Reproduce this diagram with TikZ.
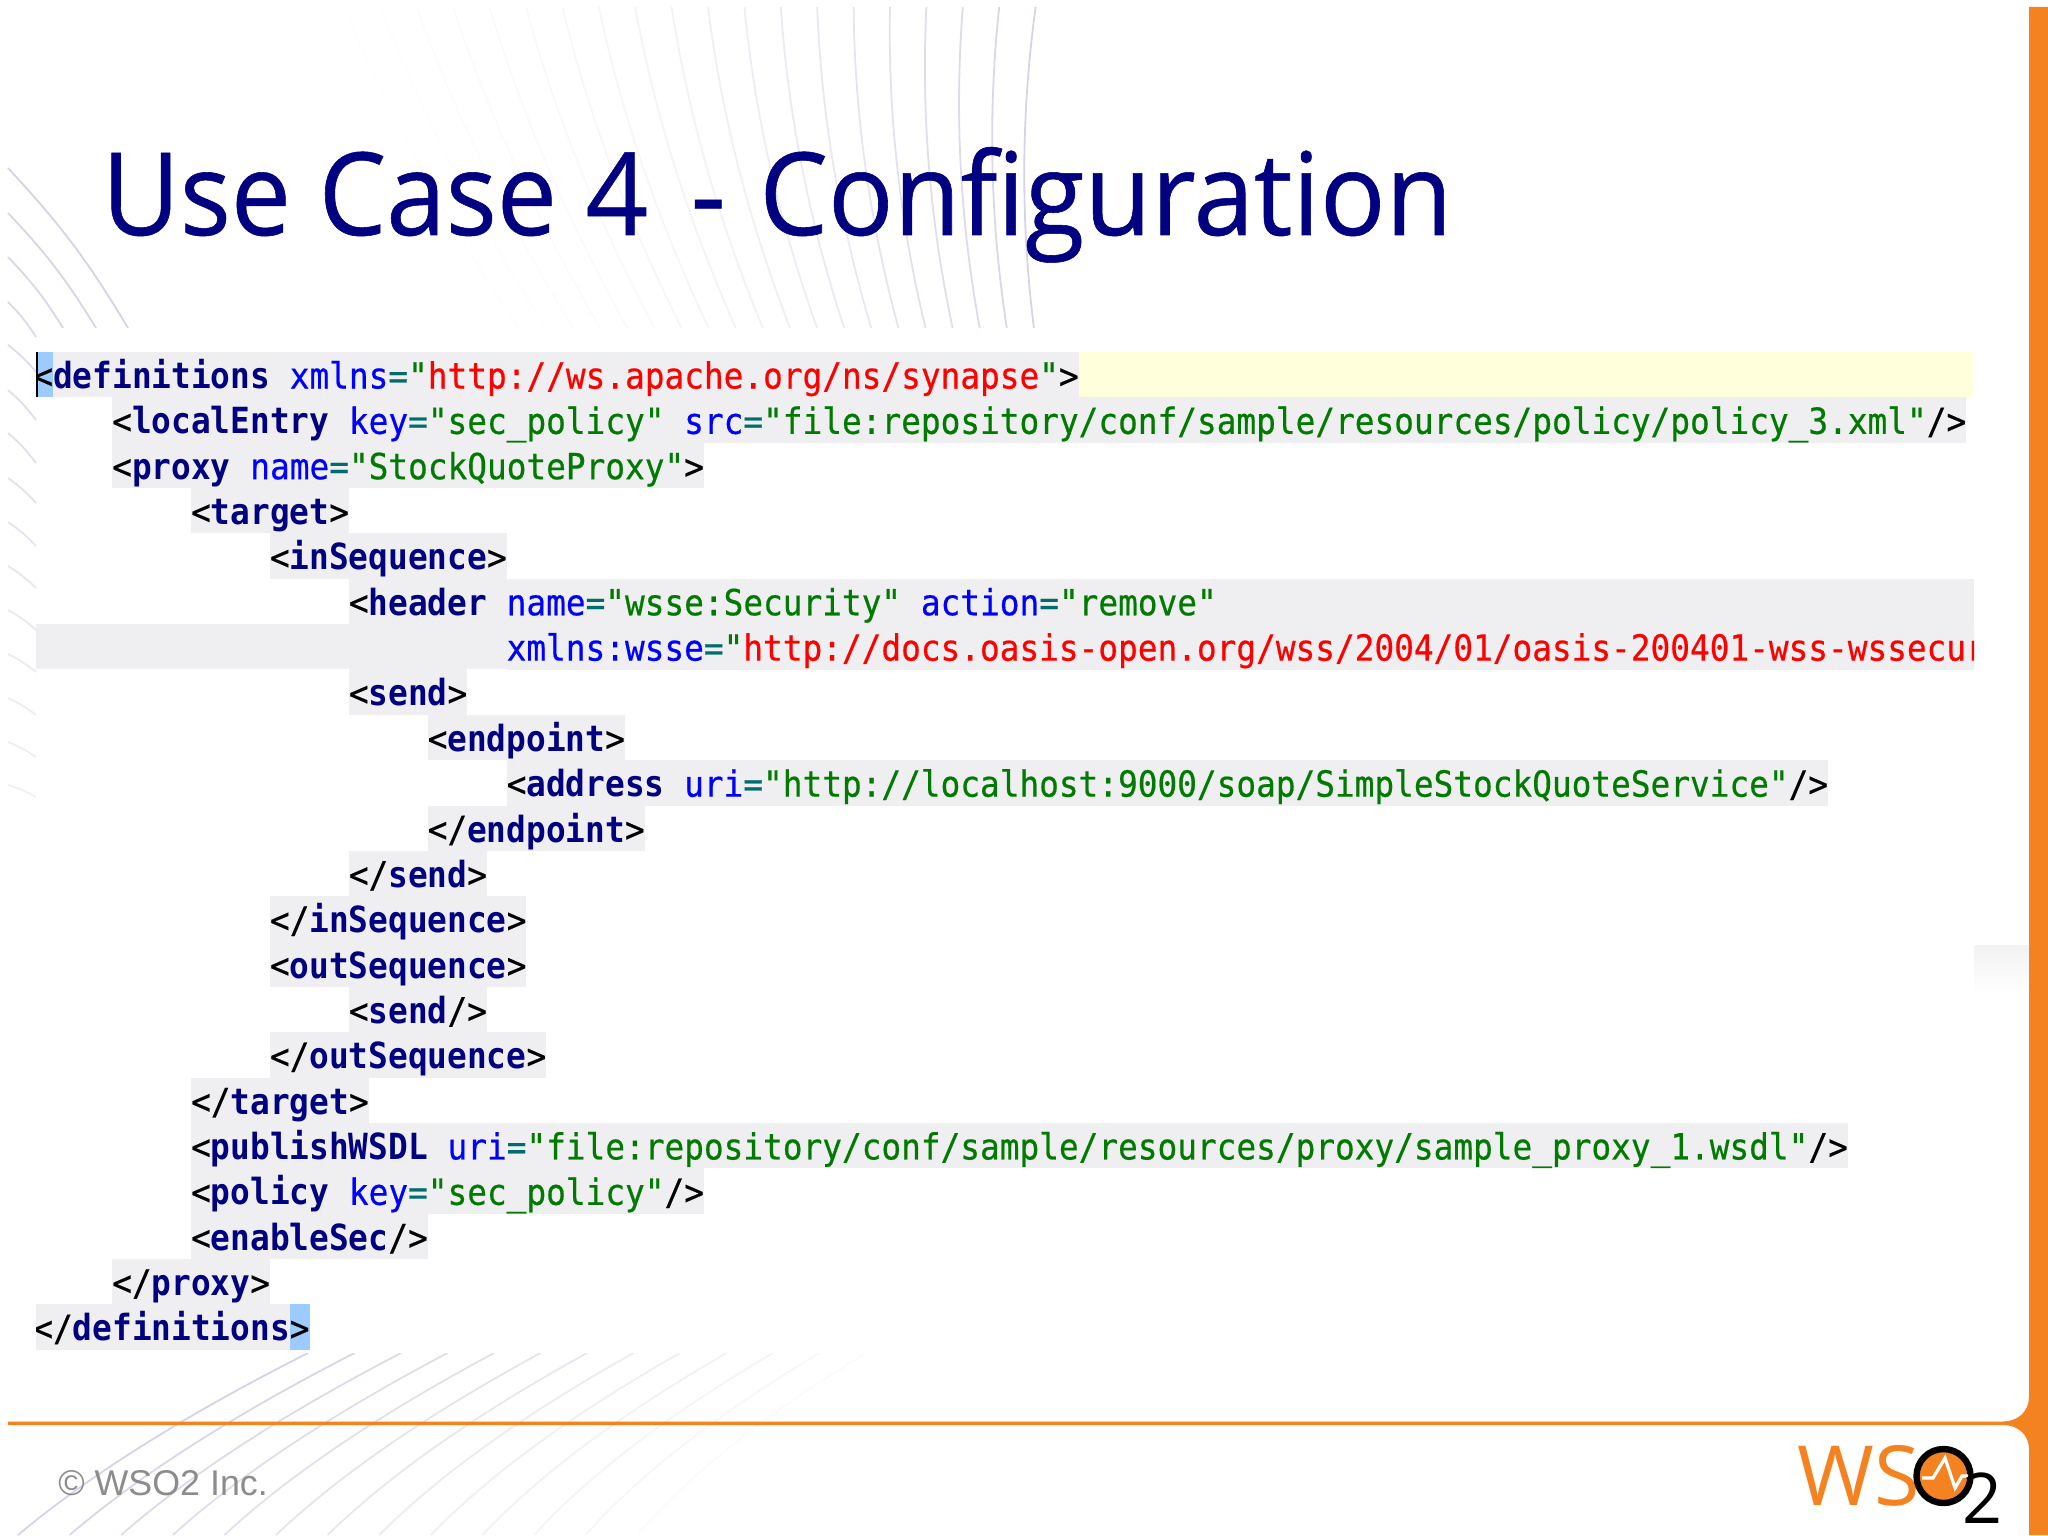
\documentclass[tikz,border=0pt]{standalone}
\usepackage{fontspec}
\setmainfont{Liberation Sans}
\newfontfamily\titlefont[FakeStretch=0.953,FakeBold=0.5]{Open Sans}
\newfontfamily\logofont{Open Sans}
\newfontfamily\codefont[FakeStretch=0.91,UprightFeatures={FakeBold=0.5}]{DejaVu Sans Mono}
\definecolor{titlenavy}{HTML}{000080}
\definecolor{wsoorange}{HTML}{F58220}
\definecolor{arcblue}{HTML}{D4D4E6}
\definecolor{bandgrey}{HTML}{EFEFF1}
\definecolor{bandyellow}{HTML}{FFFFDC}
\definecolor{hlblue}{HTML}{9CCBFF}
\definecolor{valgreen}{HTML}{007A00}
\definecolor{eqteal}{HTML}{006C6C}
\newcommand{\pk}[1]{\textcolor{black}{#1}}
\newcommand{\tg}[1]{\textcolor{titlenavy}{\bfseries #1}}
\newcommand{\attr}[1]{\textcolor{blue}{#1}}
\newcommand{\eqs}{\textcolor{eqteal}{=}}
\newcommand{\val}[1]{\textcolor{valgreen}{#1}}
\newcommand{\lnk}[1]{\val{"}\textcolor{red}{#1}\val{"}}
\newcommand{\hlrule}{\makebox[0pt][l]{\textcolor{hlblue}{\rule[-4.45pt]{9.86pt}{22.7pt}}}}

\begin{document}
\begin{tikzpicture}[x=0.5pt,y=-0.5pt,
                    code line/.style={anchor=base west,fill=bandgrey,inner sep=0pt,text height=18.25pt,text depth=4.45pt,font=\codefont\fontsize{18}{22}\selectfont},
                    arc line/.style={line width=0.9pt},
                    logo text/.style={inner sep=0pt,anchor=base west}]
    \useasboundingbox (0,0) rectangle (2048,1535);

    \begin{scope}
        \clip (0,7) rectangle (1100,328);
        \foreach \i in {0,...,19} {
            \pgfmathsetmacro\xtop{344+36.4*\i}
            \pgfmathsetmacro\xlow{519+27.1*\i}
            \pgfmathsetmacro\fade{100*(0.04+0.96*(\i/19)^1.7)}
            \draw[arc line,arcblue!\fade!white] (\xtop,7) .. controls ({\xtop+(\xlow-\xtop)/3-14},114) and ({\xtop+2*(\xlow-\xtop)/3-14},221) .. (\xlow,328);
        }
    \end{scope}

    \foreach \ystart/\xend/\yend [count=\r from 0] in {168/128/328,213/96/328,257/63/328,302/36/337,345/36/372,390/36/420,433/36/463,478/36/503,522/36/546,566/36/588,610/36/630,654/36/672,698/36/715,742/36/757,785/36/797} {
        \pgfmathsetmacro\fade{100-4.6*\r}
        \draw[arc line,arcblue!\fade!white] (8,\ystart) to[bend left=6] (\xend,\yend);
    }

    \begin{scope}
        \clip (0,1353) rectangle (1000,1535);
        \foreach \i in {0,...,12} {
            \pgfmathsetmacro\xtop{308+46.5*\i}
            \pgfmathsetmacro\xlow{18+51.6*\i}
            \pgfmathsetmacro\fade{100-7.5*\i}
            \draw[arc line,arcblue!\fade!white] (\xlow,1535) .. controls ({\xlow+(\xtop-\xlow)/3-24},1474) and ({\xlow+2*(\xtop-\xlow)/3-24},1414) .. (\xtop,1353);
        }
    \end{scope}

    \shade[top color=black!5,bottom color=white] (1974,945) rectangle (2029,995);

    \node[anchor=base west,inner sep=0pt,text=titlenavy,font=\titlefont\fontsize{57.5}{60}\selectfont] (title) at (101.5,235) {{\addfontfeature{FakeStretch=0.931}Use Case} 4\hspace{7pt} -\hspace{2.5pt} {\addfontfeature{FakeStretch=0.946}Configuration}};

    \begin{scope}
        \clip (36,340) rectangle (1974,1360);
        \fill[bandyellow] (1078,352) rectangle (1974,398);
        \fill[bandgrey] (348.5,578.5) rectangle (1974,624);
        \fill[bandgrey] (36,623.5) rectangle (1974,669);
        \foreach \ind/\txt [count=\r from 0] in {
            0/{\hlrule\makebox[0pt][l]{\hspace{1.5pt}\rule[-4.45pt]{1pt}{22.7pt}}\pk{<}\tg{definitions} \attr{xmlns}\eqs\lnk{http://ws.apache.org/ns/synapse}\pk{>}},
            4/{\pk{<}\tg{localEntry} \attr{key}\eqs\val{"sec\_policy"} \attr{src}\eqs\val{"file:repository/conf/sample/resources/policy/policy\_3.xml"}\pk{/>}},
            4/{\pk{<}\tg{proxy} \attr{name}\eqs\val{"StockQuoteProxy"}\pk{>}},
            8/{\pk{<}\tg{target}\pk{>}},
            12/{\pk{<}\tg{inSequence}\pk{>}},
            16/{\pk{<}\tg{header} \attr{name}\eqs\val{"wsse:Security"} \attr{action}\eqs\val{"remove"}},
            24/{\attr{xmlns:wsse}\eqs\val{"}\textcolor{red}{http://docs.oasis-open.org/wss/2004/01/oasis-200401-wss-wssecur}},
            16/{\pk{<}\tg{send}\pk{>}},
            20/{\pk{<}\tg{endpoint}\pk{>}},
            24/{\pk{<}\tg{address} \attr{uri}\eqs\val{"http://localhost:9000/soap/SimpleStockQuoteService"}\pk{/>}},
            20/{\pk{</}\tg{endpoint}\pk{>}},
            16/{\pk{</}\tg{send}\pk{>}},
            12/{\pk{</}\tg{inSequence}\pk{>}},
            12/{\pk{<}\tg{outSequence}\pk{>}},
            16/{\pk{<}\tg{send}\pk{/>}},
            12/{\pk{</}\tg{outSequence}\pk{>}},
            8/{\pk{</}\tg{target}\pk{>}},
            8/{\pk{<}\tg{publishWSDL} \attr{uri}\eqs\val{"file:repository/conf/sample/resources/proxy/sample\_proxy\_1.wsdl"}\pk{/>}},
            8/{\pk{<}\tg{policy} \attr{key}\eqs\val{"sec\_policy"}\pk{/>}},
            8/{\pk{<}\tg{enableSec}\pk{/>}},
            4/{\pk{</}\tg{proxy}\pk{>}},
            0/{\pk{</}\tg{definitions}\hlrule\pk{>}}} {
            \node[code line] (line \r) at ({33+19.72*\ind},{352+45.35*\r+36.5}) {\txt};
        }
    \end{scope}

    \fill[wsoorange] (2029,7) -- (2048,7) -- (2048,1535) -- (2029,1535) -- (2029,1449) .. controls (2029,1435) and (2018,1425) .. (2003,1425) -- (8,1425) -- (8,1421.5) -- (2003,1421.5) .. controls (2018,1421.5) and (2029,1411) .. (2029,1397) -- cycle;

    \node[logo text,text=black!45,font=\fontsize{17.9}{20}\selectfont] (footer) at (58,1495) {© WSO2 Inc.};

    \node[logo text,text=wsoorange,font=\logofont\fontsize{41.5}{44}\selectfont] (logo ws) at (1797,1505) {WS};
    \coordinate (logo ring) at (1943.5,1476);
    \draw[fill=wsoorange,line width=3.2pt] (logo ring) circle[radius=27];
    \draw[white,line width=1.6pt] (1922,1478) -- (1933,1478) -- (1945,1458) -- (1955,1488) -- (1962,1476) -- (1968,1476);
    \node[logo text,text=black,font=\logofont\fontsize{35}{38}\selectfont] (logo two) at (1962,1523) {2};
\end{tikzpicture}
\end{document}
